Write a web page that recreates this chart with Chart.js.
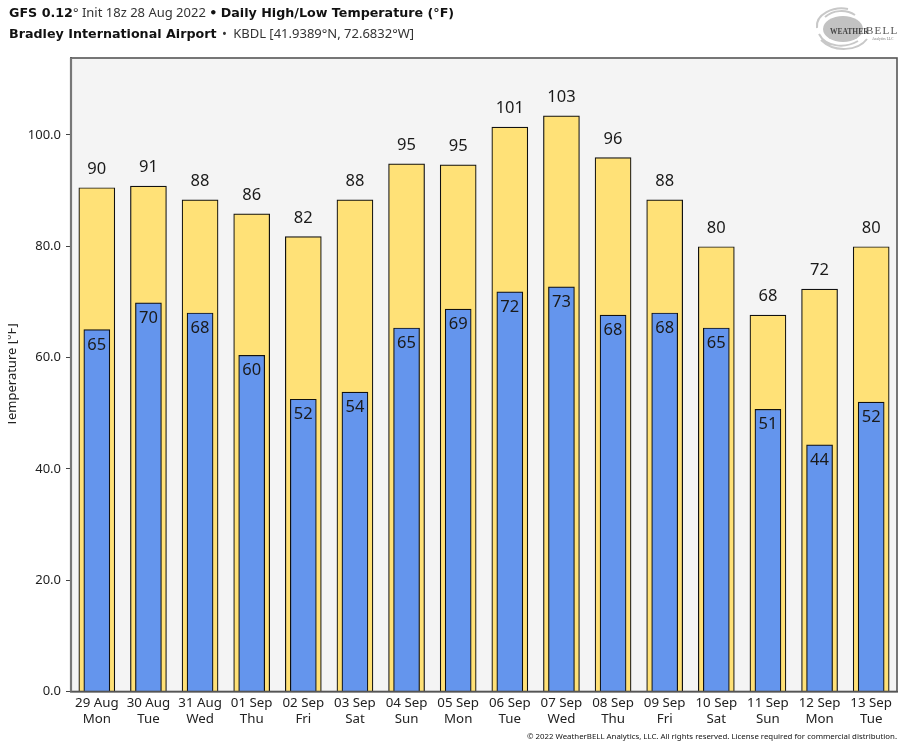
<!DOCTYPE html>
<html>
<head>
<meta charset="utf-8">
<title>Daily High/Low Temperature</title>
<script src="https://cdn.jsdelivr.net/npm/chart.js@4"></script>
<style>
  html, body { margin: 0; padding: 0; background: #fff; }
  #wrap { position: relative; width: 913px; height: 750px; overflow: hidden; }
  canvas { position: absolute; left: 0; top: 0; }
  .line { position: absolute; left: 9px; white-space: nowrap; color: #333; font: 13px "Noto Sans"; }
  .line b { font: bold 12.7px "DejaVu Sans"; color: #111; }
  .punto { margin: 0 3px 0 2px; }
  #copy { position: absolute; right: 16px; top: 731px; font: 7.85px "Noto Sans"; color: #111; white-space: nowrap; }
  #logo { position: absolute; left: 812px; top: 4px; filter: blur(0.5px); }
  /* el original corta la parte alta de las letras del eje Y */
  #corte { position: absolute; left: 0; top: 300px; width: 8px; height: 140px; background: #fff; }
</style>
</head>
<body>
<div id="wrap">
  <canvas id="grafico" width="913" height="750"></canvas>
  <div id="corte"></div>
  <div class="line" style="top:3px"><b>GFS 0.12</b>° Init 18z 28 Aug 2022 <b>•</b> <b>Daily High/Low Temperature (°F)</b></div>
  <div class="line" style="top:24px"><b>Bradley International Airport</b> <span class="punto">•</span> KBDL [41.9389°N, 72.6832°W]</div>
  <svg id="logo" width="90" height="50" viewBox="0 0 90 50">
    <ellipse cx="31" cy="25" rx="20" ry="13" fill="#c2c2c2"/>
    <path d="M5 24C3 10 22 2 36 5M9 36C22 49 46 47 55 35M13 13C21 6 34 5 43 11M7 30C14 44 34 44 46 37" fill="none" stroke="#c8c8c8" stroke-width="2"/>
    <text x="18" y="30" font-family="Liberation Serif" font-size="7.5" font-weight="bold" fill="#444">WEATHER</text>
    <text x="54" y="30" font-family="Liberation Serif" font-size="11" fill="#555" letter-spacing="1.2">BELL</text>
    <text x="60" y="36" font-family="Liberation Serif" font-size="3.6" fill="#777">Analytics LLC</text>
  </svg>
  <div id="copy">© 2022 WeatherBELL Analytics, LLC. All rights reserved. License required for commercial distribution.</div>
</div>
<script>
// datos
const fechas = ["29 Aug", "30 Aug", "31 Aug", "01 Sep", "02 Sep", "03 Sep", "04 Sep", "05 Sep", "06 Sep", "07 Sep", "08 Sep", "09 Sep", "10 Sep", "11 Sep", "12 Sep", "13 Sep"];
const dias = ["Mon", "Tue", "Wed", "Thu", "Fri", "Sat", "Sun", "Mon", "Tue", "Wed", "Thu", "Fri", "Sat", "Sun", "Mon", "Tue"];
const maximas = [90.5, 90.8, 88.3, 85.8, 81.7, 88.3, 94.8, 94.6, 101.4, 103.4, 95.9, 88.3, 79.9, 67.6, 72.3, 79.9];
const minimas = [65.0, 69.8, 68.0, 60.4, 52.5, 53.8, 65.3, 68.7, 71.8, 72.7, 67.6, 68.0, 65.3, 50.7, 44.3, 52.0];
const etiquetasMax = [90, 91, 88, 86, 82, 88, 95, 95, 101, 103, 96, 88, 80, 68, 72, 80];
const etiquetasMin = [65, 70, 68, 60, 52, 54, 65, 69, 72, 73, 68, 68, 65, 51, 44, 52];
const ticksY = [0, 20, 40, 60, 80, 100];

// fondo y marco del area de dibujo
const fondoPlot = {
  id: "fondoPlot",
  beforeDatasetsDraw(chart) {
    const { ctx, chartArea: a } = chart;
    ctx.save();
    ctx.fillStyle = "#f4f4f4";
    ctx.fillRect(a.left, a.top, a.width, a.height);
    ctx.restore();
  },
  afterDatasetsDraw(chart) {
    const { ctx, chartArea: a } = chart;
    ctx.save();
    ctx.strokeStyle = "#555";
    ctx.lineWidth = 1.6;
    ctx.strokeRect(a.left, a.top, a.width, a.height);
    ctx.strokeStyle = "#777";
    ctx.lineWidth = 2.2;
    ctx.beginPath();
    ctx.moveTo(a.left, a.top);
    ctx.lineTo(a.left, a.bottom);
    ctx.stroke();
    ctx.restore();
  },
};

// numeros sobre las barras
const etiquetas = {
  id: "etiquetas",
  afterDatasetsDraw(chart) {
    const { ctx } = chart;
    ctx.save();
    ctx.font = '16.5px "Noto Sans"';
    ctx.fillStyle = "#1a1a1a";
    ctx.textAlign = "center";
    ctx.textBaseline = "alphabetic";
    chart.getDatasetMeta(0).data.forEach((b, i) => {
      ctx.fillText(etiquetasMin[i], b.x, b.y + 20);
    });
    chart.getDatasetMeta(1).data.forEach((b, i) => {
      ctx.fillText(etiquetasMax[i], b.x, b.y - 14);
    });
    ctx.restore();
  },
};

new Chart(document.getElementById("grafico"), {
  type: "bar",
  data: {
    labels: fechas.map((f, i) => [f, dias[i]]),
    datasets: [
      {
        label: "Low",
        data: minimas,
        backgroundColor: "#6495ed",
        borderColor: "#111",
        borderWidth: 1.2,
        barThickness: 26,
        grouped: false,
        order: 0,
      },
      {
        label: "High",
        data: maximas,
        backgroundColor: "#ffe177",
        borderColor: "#111",
        borderWidth: 1.2,
        barThickness: 36,
        grouped: false,
        order: 1,
      },
    ],
  },
  options: {
    responsive: false,
    animation: false,
    layout: { padding: { top: 58, right: 16, bottom: 0, left: 0 } },
    plugins: { legend: { display: false }, tooltip: { enabled: false } },
    scales: {
      x: {
        grid: { display: false },
        border: { color: "#555", width: 1.6 },
        ticks: {
          autoSkip: false,
          maxRotation: 0,
          padding: -4,
          color: "#222",
          font: { family: "Noto Sans", size: 13.3, lineHeight: 1.2 },
        },
        afterFit(scale) {
          scale.height = 58.5;
        },
      },
      y: {
        min: 0,
        max: 113.8,
        afterBuildTicks(scale) {
          scale.ticks = ticksY.map((v) => ({ value: v }));
        },
        grid: { drawOnChartArea: false, drawTicks: true, tickLength: 5, color: "#444" },
        border: { color: "#777", width: 2 },
        ticks: {
          padding: 5,
          color: "#222",
          font: { family: "Noto Sans", size: 13 },
          callback: (v) => v.toFixed(1),
        },
        title: {
          display: true,
          text: "Temperature [°F]",
          color: "#222",
          padding: { top: 4, bottom: 0 },
          font: { family: "Noto Sans", size: 13 },
        },
        afterFit(scale) {
          scale.width = 71;
        },
      },
    },
  },
  plugins: [fondoPlot, etiquetas],
});
</script>
</body>
</html>
